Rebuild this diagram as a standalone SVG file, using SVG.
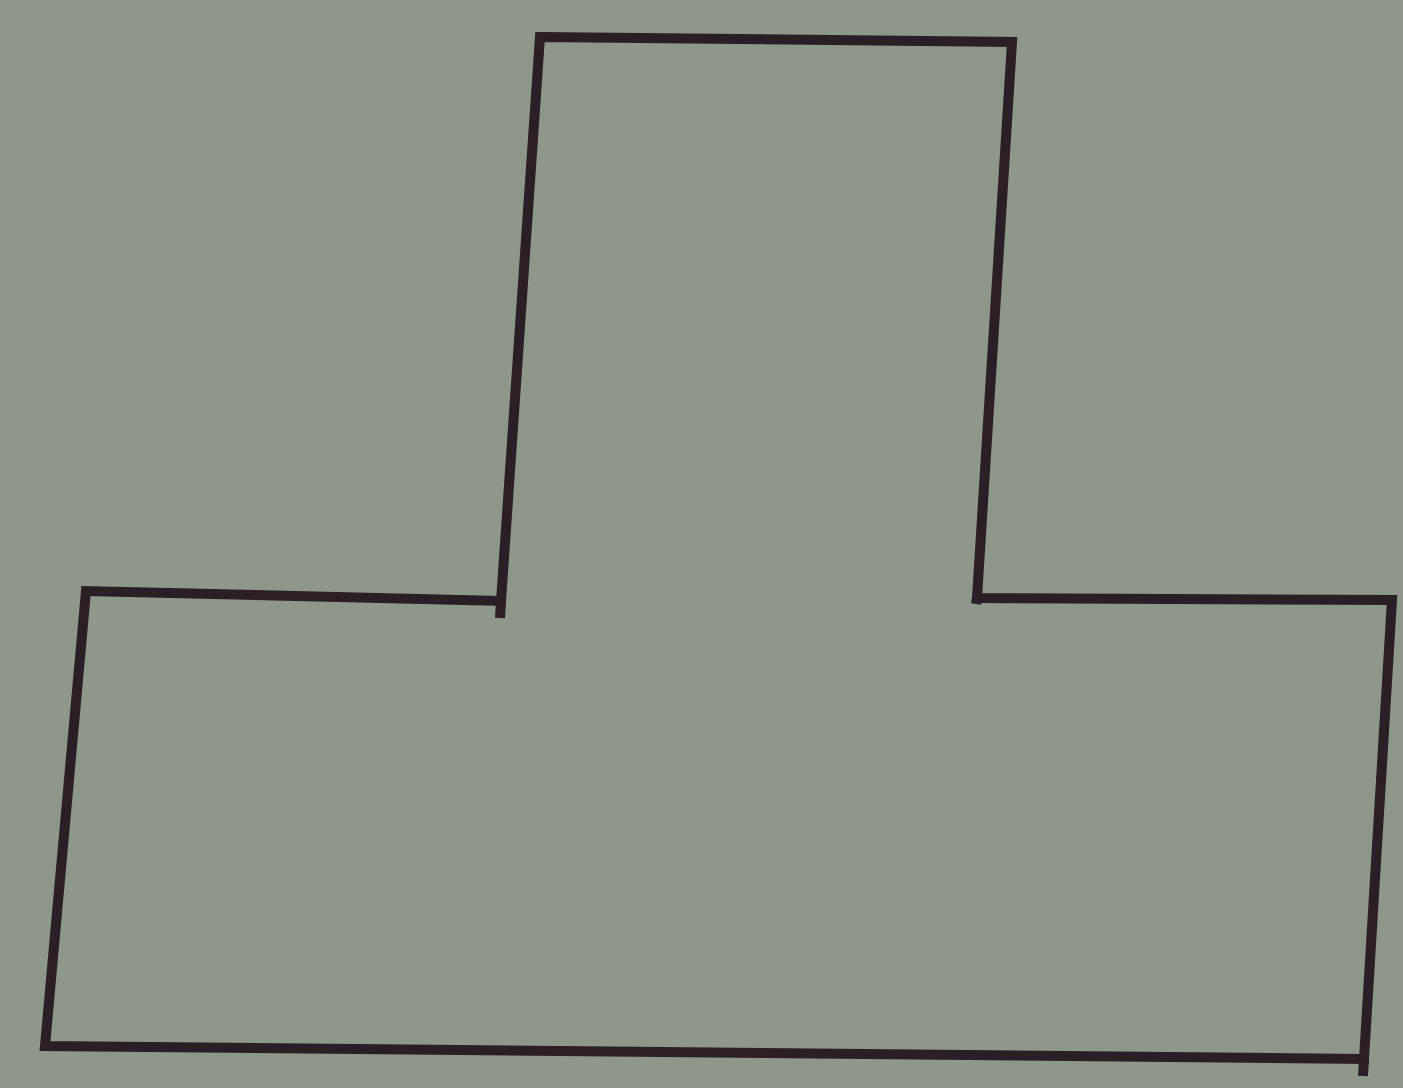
<svg xmlns="http://www.w3.org/2000/svg" width="1403" height="1088" viewBox="0 0 1403 1088">
  <style>
    .outline { fill: none; stroke: #2b1f26; stroke-width: 10; stroke-linejoin: miter; stroke-linecap: butt; }
  </style>
  <rect x="0" y="0" width="1403" height="1088" fill="#8f978b"/>
  <g id="shape">
    <path class="outline" d="M540,37 L1012,42 L977,598 L1392,600 L1364,1059 L45,1046 L86,591 L501,601 Z"/>
    <path class="outline" d="M501,601 L500,618 M977,598 L976,604 M1364,1059 L1363,1076"/>
  </g>
</svg>
